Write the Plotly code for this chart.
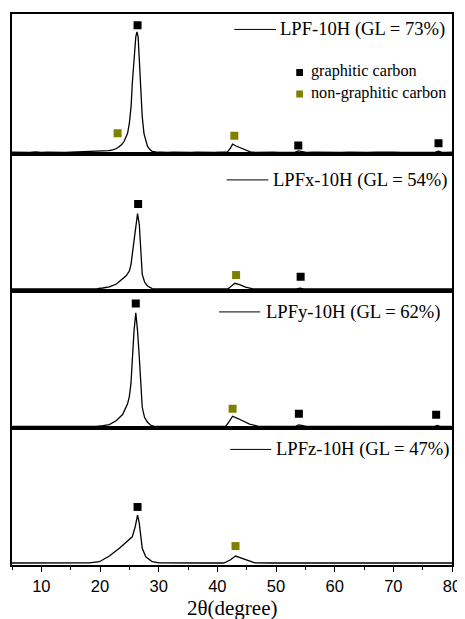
import plotly.graph_objects as go
from plotly.subplots import make_subplots

# ---------------- data ----------------
# x = 2theta (degree), y = intensity (a.u., arbitrary panel units)
x1 = [5, 6, 7, 8, 9, 10, 11, 12, 13, 14, 15, 16, 17,
      18.2, 19.5, 20.5, 21.5, 22.2, 22.8, 23.3, 23.7, 24.1, 24.4,
      24.7, 25.0, 25.3, 25.5, 25.8, 26.1, 26.3, 26.5, 26.7, 27.0,
      27.2, 27.5, 27.8, 28.1, 28.5, 28.9, 29.5, 30.5, 31.5, 32.5,
      33.5, 34.5, 35.5, 36.5, 37.5, 38.5, 39.5, 40.5, 41.7, 42.2,
      42.6, 43.2, 44.0, 44.8, 45.6, 46.5, 47.5, 48.5, 49.5, 50.5,
      51.5, 52.5, 53.2, 53.8, 54.4, 55.2, 56.5, 58, 59.5, 61,
      62.5, 64, 65.5, 67, 68.5, 70, 71.5, 73, 74.5, 76,
      77.1, 77.7, 78.3, 79, 80]
y1 = [2.3, 2.0, 2.4, 2.1, 2.5, 2.0, 2.3, 2.1, 2.5, 2.1, 2.3, 2.5, 2.2,
      2.4, 2.8, 3.1, 3.8, 4.7, 6.0, 8.0, 10.0, 13.0, 16.5,
      21.3, 31.3, 48.0, 71.0, 98.0, 118.0, 123.0, 118.0, 95.0, 65.0,
      38.0, 21.0, 13.0, 8.0, 5.0, 3.2, 2.6, 2.2, 2.0, 2.4,
      2.1, 2.4, 2.0, 2.3, 2.1, 2.5, 2.1, 2.4, 2.3, 6.0,
      10.3, 8.5, 6.3, 4.2, 2.6, 2.2, 2.4, 2.0, 2.3, 2.1,
      2.4, 2.0, 2.2, 3.6, 2.8, 2.1, 2.3, 2.0, 2.4, 2.1,
      2.4, 2.0, 2.2, 2.4, 2.0, 2.3, 2.1, 2.4, 2.0, 2.2,
      2.1, 3.2, 2.2, 2.1, 2.3]

x2 = [5, 8, 11, 14, 17, 18.5, 19.5, 20.5, 21.6, 22.8,
      23.8, 24.5, 25.0, 25.3, 25.5, 25.8, 26.1, 26.4, 26.7, 26.95,
      27.2, 27.6, 28.1, 28.9, 30, 33, 36, 39, 41.8, 42.3,
      43.0, 43.8, 44.8, 46.1, 48, 51, 53.5, 54.1, 54.7, 57,
      61, 65, 69, 73, 77, 77.6, 78.2, 80]
y2 = [2, 2, 2, 2, 2, 2.1, 2.4, 3.0, 4.2, 7.0,
      11.7, 15.5, 20.0, 27.0, 36.7, 52.0, 66.7, 77.7, 66.7, 43.3,
      16.7, 9.0, 5.0, 2.4, 2, 2, 2, 2, 2, 4.5,
      7.7, 6.3, 4.0, 2.2, 2, 2, 2, 2.8, 2, 2,
      2, 2, 2, 2, 2, 2.6, 2, 2]

x3 = [5, 8, 11, 14, 17, 18.5, 19.3, 20.5, 21.6, 22.8,
      23.85, 24.7, 25.0, 25.27, 25.5, 25.8, 26.1, 26.4, 26.7, 26.96,
      27.2, 27.6, 28.1, 28.6, 29.2, 31, 34, 37, 40, 41.4,
      42.0, 42.6, 43.5, 44.5, 45.5, 47, 49, 51, 53.2, 53.9,
      54.6, 55.2, 58, 62, 66, 70, 74, 76.9, 77.5, 78.1,
      80]
y3 = [2, 2, 2, 2, 2, 2, 2.2, 2.8, 4.0, 8.0,
      14.0, 24.7, 32.0, 44.7, 71.3, 98.0, 116.0, 98.0, 71.3, 41.3,
      21.3, 11.0, 6.3, 3.5, 2.2, 2, 2, 2, 2, 2,
      7.0, 12.3, 10.0, 7.0, 4.5, 2.2, 2, 2, 2, 3.7,
      2.5, 2, 2, 2, 2, 2, 2, 2, 3.0, 2,
      2]

x4 = [5, 8, 11, 14, 16.5, 18.2, 19.9, 21.6, 23.3, 24.97,
      25.5, 26.0, 26.4, 26.7, 26.96, 27.2, 27.8, 28.9, 30.1, 32,
      35, 38, 41.1, 42.2, 43.1, 44.0, 45.2, 46.4, 49, 53,
      57, 61, 65, 69, 73, 77, 80]
y4 = [2, 2, 2, 2, 2, 2.2, 3.3, 9.0, 16.7, 25.0,
      28.3, 38.3, 50.0, 41.7, 28.3, 16.7, 8.3, 3.3, 2.2, 2,
      2, 2, 2, 5.0, 9.0, 7.0, 4.5, 2.2, 2, 2,
      2, 2, 2, 2, 2, 2, 2]

# peak markers: graphitic carbon (black) / non-graphitic carbon (olive)
gx1 = [26.4, 53.8, 77.7]; gy1 = [129.7, 9.0, 11.3]
ox1 = [23.0, 42.9];       oy1 = [21.3, 18.7]
gx2 = [26.5, 54.2];       gy2 = [87.3, 14.3]
ox2 = [43.2];             oy2 = [16.0]
gx3 = [26.1, 53.9, 77.3]; gy3 = [125.5, 14.7, 13.7]
ox3 = [42.6];             oy3 = [19.7]
gx4 = [26.4];             gy4 = [58.3]
ox4 = [43.1];             oy4 = [19.0]

sample_names = ["LPF-10H (GL = 73%)", "LPFx-10H (GL = 54%)",
                "LPFy-10H (GL = 62%)", "LPFz-10H (GL = 47%)"]
marker_names = ["graphitic carbon", "non-graphitic carbon"]
x_ticks = [10, 20, 30, 40, 50, 60, 70, 80]
x_title = "2θ(degree)"

# ---------------- figure ----------------
panel_px = [141, 137, 138, 137]
fig = make_subplots(rows=4, cols=1, shared_xaxes=True, vertical_spacing=0,
                    row_heights=panel_px)

SERIF = "Liberation Serif, Times New Roman, serif"
SANS = "Liberation Sans, Arial, sans-serif"
BLACK = "#000000"
OLIVE = "#808000"

curves = [(x1, y1), (x2, y2), (x3, y3), (x4, y4)]
graph = [(gx1, gy1), (gx2, gy2), (gx3, gy3), (gx4, gy4)]
nong = [(ox1, oy1), (ox2, oy2), (ox3, oy3), (ox4, oy4)]

for i in range(4):
    r = i + 1
    cx, cy = curves[i]
    fig.add_trace(go.Scatter(x=cx, y=cy, mode="lines",
                             line=dict(color=BLACK, width=1.3),
                             name=sample_names[i], showlegend=False),
                  row=r, col=1)
    gx, gy = graph[i]
    fig.add_trace(go.Scatter(x=gx, y=gy, mode="markers",
                             marker=dict(symbol="square", size=8, color=BLACK),
                             name=marker_names[0], showlegend=False),
                  row=r, col=1)
    ox, oy = nong[i]
    fig.add_trace(go.Scatter(x=ox, y=oy, mode="markers",
                             marker=dict(symbol="square", size=8, color=OLIVE),
                             name=marker_names[1], showlegend=False),
                  row=r, col=1)

# per-panel legend-like labels: (line x0, x1, y, text x, text y)
label_pos = [(42.9, 50.0, 125.5, 50.4, 125.5),
             (41.6, 48.7, 111.5, 49.1, 111.5),
             (40.3, 47.3, 117, 48.0, 116.5),
             (42.2, 49.2, 116, 49.7, 116)]
for i, (lx0, lx1, ly, tx, ty) in enumerate(label_pos):
    ax = "x" if i == 0 else f"x{i+1}"
    ay = "y" if i == 0 else f"y{i+1}"
    fig.add_shape(type="line", xref=ax, yref=ay, x0=lx0, x1=lx1, y0=ly, y1=ly,
                  line=dict(color=BLACK, width=1))
    fig.add_annotation(xref=ax, yref=ay, x=tx, y=ty, text=sample_names[i],
                       showarrow=False, xanchor="left", yanchor="middle",
                       font=dict(family=SERIF, size=18.6, color=BLACK))

# marker legend in top panel
for (cy_, col, name) in [(82.3, BLACK, marker_names[0]), (60.7, OLIVE, marker_names[1])]:
    fig.add_shape(type="rect", xref="x", yref="y", x0=53.45, x1=54.6,
                  y0=cy_ - 3.4, y1=cy_ + 3.4, fillcolor=col, line=dict(width=0))
    fig.add_annotation(xref="x", yref="y", x=55.6, y=cy_ + 1, text=name,
                       showarrow=False, xanchor="left", yanchor="middle",
                       font=dict(family=SERIF, size=16.2, color=BLACK))

fig.add_annotation(xref="paper", yref="paper", x=0.5, y=-0.078, text=x_title,
                   showarrow=False, xanchor="center", yanchor="middle",
                   font=dict(family=SERIF, size=21, color=BLACK))

for r in range(1, 5):
    fig.update_xaxes(range=[5, 80], showline=True, linecolor=BLACK, linewidth=1.5,
                     mirror=True, showgrid=False, zeroline=False, row=r, col=1)
    fig.update_yaxes(range=[0, panel_px[r - 1]], showline=True, linecolor=BLACK,
                     linewidth=1.5, mirror=True, showgrid=False, zeroline=False,
                     ticks="", showticklabels=False, row=r, col=1)
for r in range(1, 4):
    fig.update_xaxes(ticks="", showticklabels=False, row=r, col=1)
fig.update_xaxes(ticks="outside", ticklen=5, tickwidth=1.2, tickcolor=BLACK,
                 tickmode="array", tickvals=x_ticks, ticktext=[str(v) for v in x_ticks],
                 showticklabels=True,
                 tickfont=dict(family=SANS, size=16.5, color=BLACK),
                 minor=dict(ticks="outside", ticklen=3.5, tickwidth=1.2,
                            tickcolor=BLACK, dtick=5, tick0=0),
                 row=4, col=1)

# the page body adds an 8px margin, so the figure is sized/offset to compensate
fig.update_layout(width=457, height=611,
                  margin=dict(l=4, r=10, t=4, b=54),
                  paper_bgcolor="white", plot_bgcolor="white",
                  showlegend=False)

fig.write_html("out.html")
